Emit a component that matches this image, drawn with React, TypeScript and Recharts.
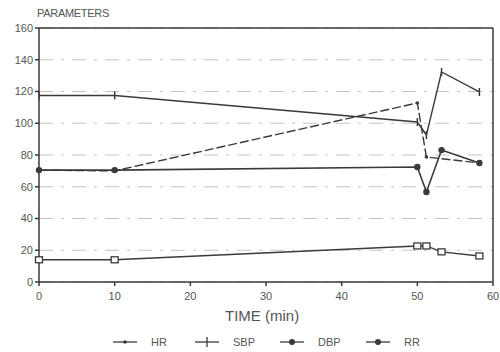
import { LineChart, Line, XAxis, YAxis, CartesianGrid, ReferenceLine } from 'recharts';

// time points (min)
const times = [0, 10, 50, 51.2, 53.2, 58.2];
const hr = [70.5, 70, 112.8, 78.7, null, 75];
const sbp = [117.5, 117.5, 100.8, 92.6, 132.3, 119.7];
const dbp = [70.5, 70.5, 72.4, 56.7, 83.1, 75];
const rr = [14, 14, 22.7, 22.7, 19, 16.4];

const xTicks = [0, 10, 20, 30, 40, 50, 60];
const yTicks = [0, 20, 40, 60, 80, 100, 120, 140, 160];

const data = times.map((t, i) => ({ t, hr: hr[i], sbp: sbp[i], dbp: dbp[i], rr: rr[i] }));

const INK = '#3a3a3a';
const TXT = '#555';

const SmallDot = (props: any) => {
  const { cx, cy, value } = props;
  if (value == null || cx == null) return null;
  return <circle key={props.index} cx={cx} cy={cy} r={1.8} fill={INK} />;
};

const PlusDot = (props: any) => {
  const { cx, cy, value } = props;
  if (value == null || cx == null) return null;
  return (
    <g key={props.index}>
      <line x1={cx} y1={cy - 4} x2={cx} y2={cy + 4} stroke={INK} strokeWidth={1.5} />
    </g>
  );
};

const FilledDot = (props: any) => {
  const { cx, cy, value } = props;
  if (value == null || cx == null) return null;
  return <circle key={props.index} cx={cx} cy={cy} r={3.2} fill={INK} />;
};

const SquareDot = (props: any) => {
  const { cx, cy, value } = props;
  if (value == null || cx == null) return null;
  return <rect key={props.index} x={cx - 3.5} y={cy - 3} width={7} height={6} fill="#fff" stroke={INK} strokeWidth={1.3} />;
};

const tickStyle = { fill: TXT, fontSize: 11, fontFamily: 'Liberation Sans, Arial, sans-serif' };

const legendItems = [
  { label: 'HR', x: 113, mark: 'dot' },
  { label: 'SBP', x: 195, mark: 'plus' },
  { label: 'DBP', x: 280, mark: 'filled' },
  { label: 'RR', x: 366, mark: 'filled' },
];

export default function App() {
  return (
    <div style={{ position: 'absolute', left: 0, top: 0, width: 500, height: 352, background: '#fff', fontFamily: 'Liberation Sans, Arial, sans-serif' }}>
      <LineChart width={500} height={352} data={data} margin={{ top: 28, right: 7, left: 0, bottom: 40 }}>
        <CartesianGrid stroke="#c4c4c4" strokeDasharray="14 8 3 8" vertical={false} />
        <XAxis
          dataKey="t"
          type="number"
          domain={[0, 60]}
          ticks={xTicks}
          height={30}
          stroke={INK}
          strokeWidth={1.5}
          tickSize={4}
          tick={tickStyle}
          tickMargin={6}
        />
        <YAxis
          domain={[0, 160]}
          ticks={yTicks}
          width={39}
          stroke={INK}
          strokeWidth={1.5}
          tickSize={4}
          tick={tickStyle}
          tickMargin={2}
        />
        <ReferenceLine y={160} stroke={INK} strokeWidth={1.5} />
        <ReferenceLine x={60} stroke={INK} strokeWidth={1.5} />
        <Line dataKey="sbp" stroke={INK} strokeWidth={1.4} dot={<PlusDot />} isAnimationActive={false} />
        <Line dataKey="hr" stroke={INK} strokeWidth={1.4} strokeDasharray="9 3" connectNulls dot={<SmallDot />} isAnimationActive={false} />
        <Line dataKey="dbp" stroke={INK} strokeWidth={1.6} dot={<FilledDot />} isAnimationActive={false} />
        <Line dataKey="rr" stroke={INK} strokeWidth={1.4} dot={<SquareDot />} isAnimationActive={false} />
      </LineChart>
      <div style={{ position: 'absolute', left: 37, top: 7, fontSize: 11, color: TXT, letterSpacing: -0.3 }}>PARAMETERS</div>
      <div style={{ position: 'absolute', left: 225, top: 307, fontSize: 15, color: TXT }}>TIME (min)</div>
      <svg style={{ position: 'absolute', left: 0, top: 332 }} width={500} height={20}>
        {legendItems.map((it) => (
          <g key={it.label}>
            <line x1={it.x} y1={10} x2={it.x + 24} y2={10} stroke={INK} strokeWidth={1.3} />
            {it.mark === 'dot' && <circle cx={it.x + 12} cy={10} r={1.8} fill={INK} />}
            {it.mark === 'plus' && <line x1={it.x + 12} y1={5} x2={it.x + 12} y2={15} stroke={INK} strokeWidth={1.3} />}
            {it.mark === 'filled' && <circle cx={it.x + 12} cy={10} r={3} fill={INK} />}
            <text x={it.x + 38} y={14} fontSize={11} fill={TXT}>{it.label}</text>
          </g>
        ))}
      </svg>
    </div>
  );
}
